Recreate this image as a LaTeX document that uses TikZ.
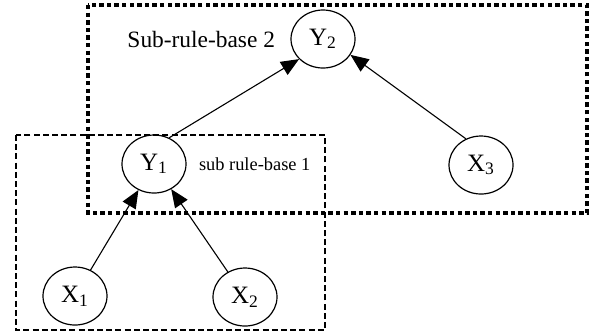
\documentclass[tikz,border=0pt]{standalone}
\usepackage{fontspec}
\setmainfont{Liberation Serif}
\usepackage{tikz}
\usetikzlibrary{shapes.geometric,arrows.meta,positioning}
\tikzset{
  var/.style = {ellipse, draw, line width=0.6pt, minimum width=32pt, minimum height=29pt, inner sep=0pt, font=\fontsize{12.5}{14}\selectfont},
  link/.style = {line width=0.55pt, -{Triangle[length=9pt,width=7.5pt]}},
  subbase/.style = {line width=0.65pt, dash pattern=on 3pt off 1.6pt},
  bigbase/.style = {line width=2pt, dash pattern=on 2.2pt off 1.6pt}
}

\begin{document}
\begin{tikzpicture}[x=0.5pt,y=-0.5pt]
  \useasboundingbox (0,0) rectangle (597,334);
  % the two rule bases
  \draw[bigbase] (88,5) rectangle (587,213);
  \draw[subbase] (16,135) rectangle (325,330);
  % variables
  \node[var] (Y2) at (323,39) {Y\textsubscript{2}};
  \node[var] (Y1) at (154,164) {Y\textsubscript{1}};
  \node[var] (X3) at (481,165) {X\textsubscript{3}};
  \node[var] (X1) at (75,296) {X\textsubscript{1}};
  \node[var] (X2) at (245,297) {X\textsubscript{2}};
  \node[inner sep=0pt, left=7.5pt of Y2, font=\fontsize{11.7}{14}\selectfont] (base2) {Sub-rule-base 2};
  \node[inner sep=0pt, right=6pt of Y1, font=\fontsize{9.2}{11}\selectfont] (base1) {sub rule-base 1};
  % links
  \draw[link] (X1) -- (Y1);
  \draw[link] (X2) -- (Y1);
  \draw[link] (Y1.60) -- (Y2.220);
  \draw[link] (X3.120) -- (Y2.-30);
\end{tikzpicture}
\end{document}
